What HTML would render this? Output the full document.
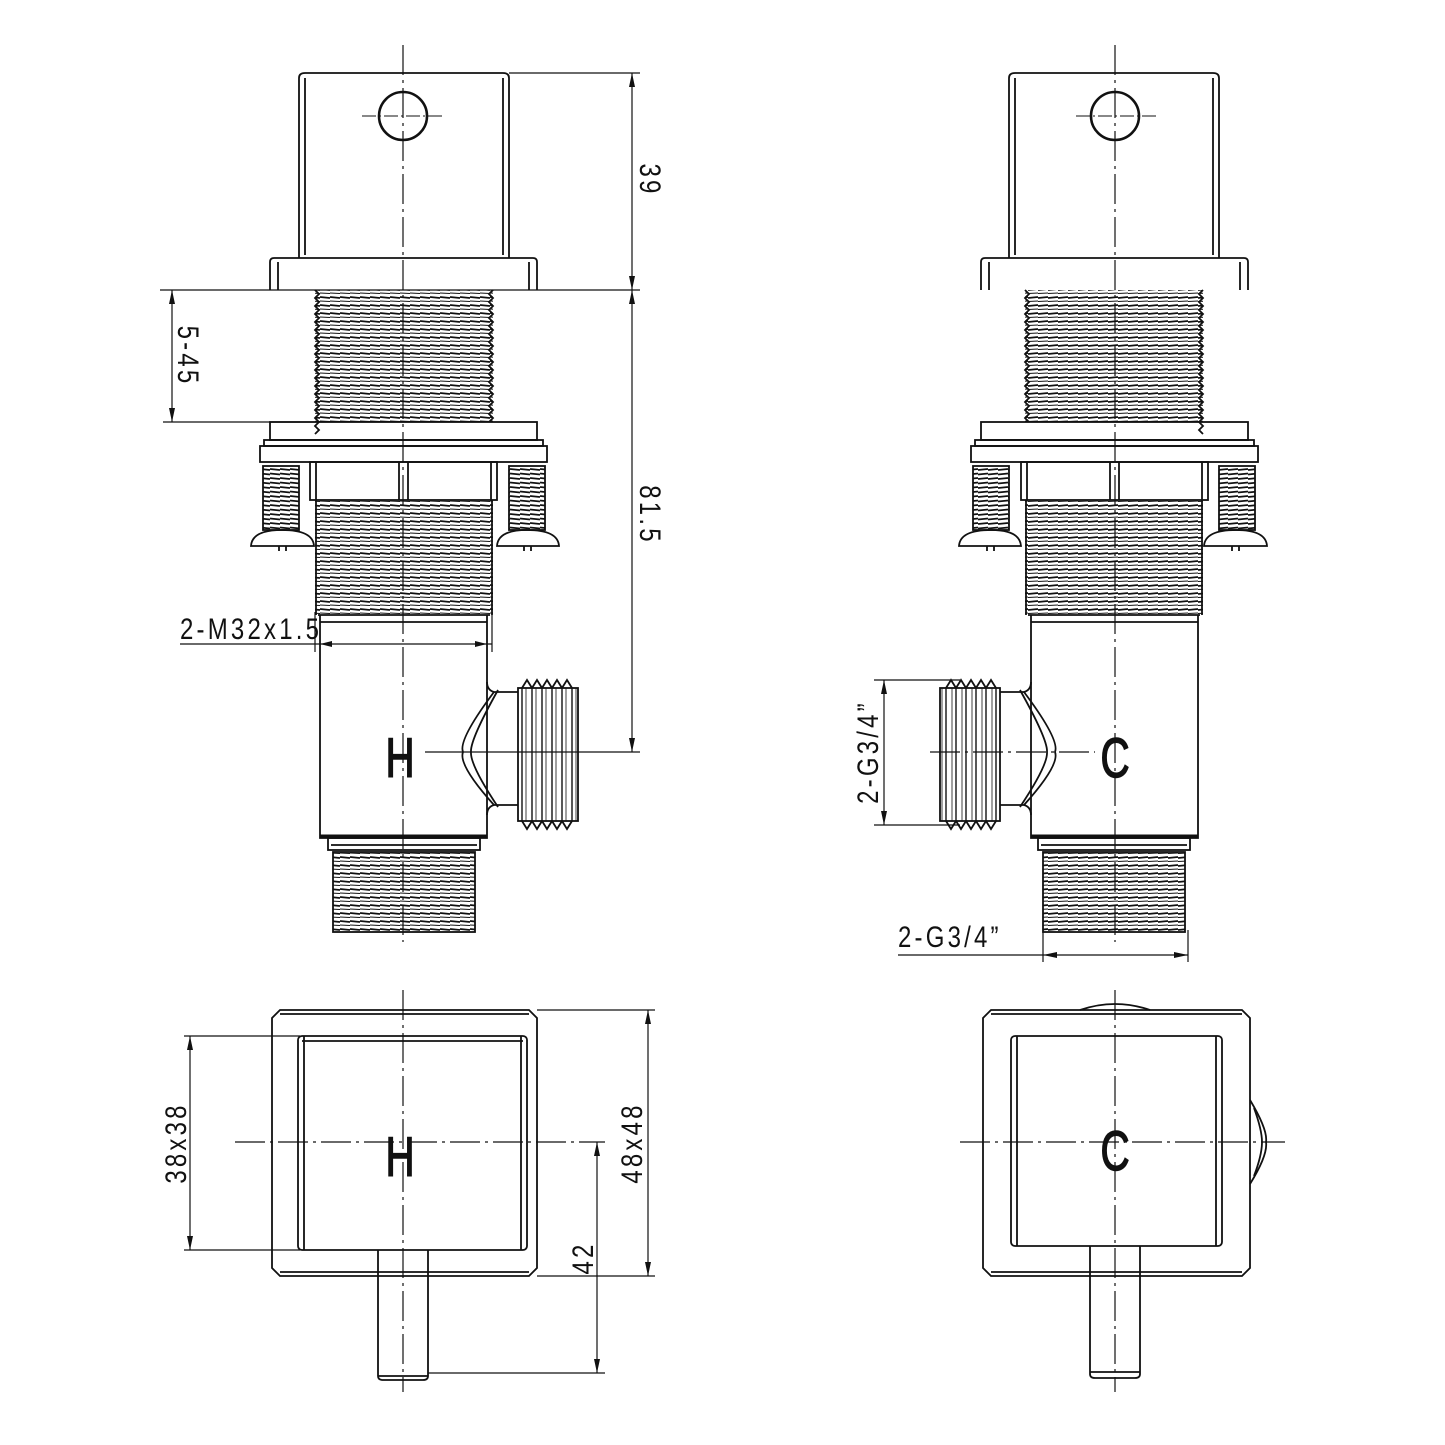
<!DOCTYPE html>
<html><head><meta charset="utf-8"><style>
html,body{margin:0;padding:0;background:#fff}
svg{display:block}
text{font-family:"Liberation Sans",sans-serif;fill:#111}
</style></head><body>
<svg width="1445" height="1445" viewBox="0 0 1445 1445" xmlns="http://www.w3.org/2000/svg">
<defs>
<pattern id="th" width="10" height="8" patternUnits="userSpaceOnUse">
<line x1="0" y1="1" x2="10" y2="2" stroke="#111" stroke-width="1.8"/>
<line x1="0" y1="5" x2="10" y2="5.5" stroke="#111" stroke-width="0.9"/>
</pattern>
<pattern id="ths" width="10" height="4.5" patternUnits="userSpaceOnUse">
<line x1="0" y1="1" x2="10" y2="2" stroke="#111" stroke-width="1.8"/>
</pattern>
<pattern id="thv" width="10" height="10" patternUnits="userSpaceOnUse">
<line x1="2" y1="0" x2="2" y2="10" stroke="#111" stroke-width="1.4"/>
<line x1="6" y1="0" x2="6" y2="10" stroke="#111" stroke-width="0.8"/>
</pattern>
<g id="elev" fill="none" stroke="#111" stroke-width="1.8">
<path d="M299,258 L299,78 Q299,73 305,73 L503,73 Q509,73 509,78 L509,258"/>
<line x1="305" y1="78" x2="305" y2="255"/><line x1="503" y1="78" x2="503" y2="255"/>
<circle cx="403" cy="116" r="24" stroke-width="2.6"/>
<line x1="362" y1="116" x2="445" y2="116" stroke-width="1" stroke-dasharray="14,3,2,3"/>
<path d="M270,290 L270,262 Q270,258 274,258 L533,258 Q537,258 537,262 L537,290"/>
<line x1="278" y1="262" x2="278" y2="290"/><line x1="529" y1="262" x2="529" y2="290"/>
<rect x="315" y="290" width="178" height="132" fill="url(#th)" stroke="none"/>
<path d="M315,290 l4,4 -4,4 4,4 -4,4 4,4 -4,4 4,4 -4,4 4,4 -4,4 4,4 -4,4 4,4 -4,4 4,4 -4,4 4,4 -4,4 4,4 -4,4 4,4 -4,4 4,4 -4,4 4,4 -4,4 4,4 -4,4 4,4 -4,4 4,4 -4,4 4,4 -4,4 4,4 -4,4"/>
<path d="M493,290 l-4,4 4,4 -4,4 4,4 -4,4 4,4 -4,4 4,4 -4,4 4,4 -4,4 4,4 -4,4 4,4 -4,4 4,4 -4,4 4,4 -4,4 4,4 -4,4 4,4 -4,4 4,4 -4,4 4,4 -4,4 4,4 -4,4 4,4 -4,4 4,4 -4,4"/>
<rect x="270" y="422" width="267" height="18"/>
<rect x="264" y="440" width="279" height="6"/>
<rect x="260" y="446" width="287" height="16"/>
<rect x="310" y="462" width="187" height="38"/>
<line x1="316" y1="462" x2="316" y2="500"/><line x1="491" y1="462" x2="491" y2="500"/>
<line x1="399" y1="462" x2="399" y2="500"/><line x1="408" y1="462" x2="408" y2="500"/>
<rect x="263" y="466" width="36" height="64" fill="url(#ths)"/>
<path d="M251,546 Q252,530 282,530 Q313,530 314,546 Z"/>
<line x1="279" y1="546" x2="279" y2="551"/><line x1="286" y1="546" x2="286" y2="551"/>
<rect x="509" y="466" width="36" height="64" fill="url(#ths)"/>
<path d="M497,546 Q498,530 527,530 Q558,530 559,546 Z"/>
<line x1="524" y1="546" x2="524" y2="551"/><line x1="531" y1="546" x2="531" y2="551"/>
<rect x="315" y="500" width="178" height="115" fill="url(#th)" stroke="none"/>
<line x1="316" y1="500" x2="316" y2="615"/><line x1="492" y1="500" x2="492" y2="615"/>
<line x1="318" y1="615" x2="490" y2="615"/>
<path d="M320,615 L320,838 L487,838 L487,615"/>
<line x1="320" y1="622" x2="487" y2="622"/>
<line x1="320" y1="836" x2="487" y2="836" stroke-width="3"/>
<path d="M487,682 Q487,690 494,692 L518,692 M487,815 Q487,807 494,805 L518,805"/>
<path d="M494,692 Q458,740 463,752 Q458,765 494,805"/>
<path d="M498,690 Q470,740 471,752 Q470,765 498,807"/>
<rect x="518" y="688" width="60" height="133" fill="url(#thv)"/>
<path d="M522,688 l5,-8 5,8 5,-8 5,8 5,-8 5,8 5,-8 5,8 5,-8 5,8 M522,821 l5,8 5,-8 5,8 5,-8 5,8 5,-8 5,8 5,-8 5,8 5,-8"/>
<rect x="328" y="838" width="152" height="12"/>
<line x1="331" y1="845" x2="477" y2="845"/>
<rect x="333" y="852" width="142" height="80" fill="url(#th)"/>
</g>
</defs>

<use href="#elev"/>
<g transform="translate(1518,0) scale(-1,1)"><use href="#elev"/></g>

<g fill="none" stroke="#111" stroke-width="1.2">
<line x1="403" y1="45" x2="403" y2="942" stroke-dasharray="30,5,3,5"/>
<line x1="1115" y1="45" x2="1115" y2="942" stroke-dasharray="30,5,3,5"/>
<line x1="425" y1="752" x2="640" y2="752"/>
<line x1="930" y1="752" x2="1095" y2="752" stroke-dasharray="30,5,3,5"/>
<line x1="509" y1="73" x2="640" y2="73"/>
<line x1="160" y1="290" x2="640" y2="290"/>
<line x1="632" y1="73" x2="632" y2="752"/>
<line x1="172" y1="290" x2="172" y2="422"/>
<line x1="163" y1="422" x2="300" y2="422"/>
<line x1="180" y1="644" x2="492" y2="644"/>
<line x1="315" y1="612" x2="315" y2="652"/>
<line x1="492" y1="612" x2="492" y2="652"/>
<line x1="874" y1="680" x2="960" y2="680"/>
<line x1="874" y1="825" x2="960" y2="825"/>
<line x1="884" y1="680" x2="884" y2="825"/>
<line x1="898" y1="955" x2="1188" y2="955"/>
<line x1="1043" y1="930" x2="1043" y2="962"/>
<line x1="1188" y1="930" x2="1188" y2="962"/>
</g>
<g fill="#111">
<path d="M632,73 l-3,14 6,0Z M632,290 l-3,-14 6,0Z M632,290 l-3,14 6,0Z M632,752 l-3,-14 6,0Z"/>
<path d="M172,290 l-3,14 6,0Z M172,422 l-3,-14 6,0Z"/>
<path d="M884,680 l-3,14 6,0Z M884,825 l-3,-14 6,0Z"/>
<path d="M1043,955 l14,-3 0,6Z M1188,955 l-14,-3 0,6Z"/>
<path d="M320,644 l12,-3 0,6Z M487,644 l-12,-3 0,6Z"/>
</g>

<g fill="none" stroke="#111" stroke-width="1.8">
<path d="M280,1010 L529,1010 L537,1018 L537,1268 L529,1276 L280,1276 L272,1268 L272,1018 Z"/>
<line x1="280" y1="1014" x2="529" y2="1014"/><line x1="280" y1="1272" x2="529" y2="1272"/>
<rect x="298" y="1036" width="229" height="214" rx="4"/>
<line x1="304" y1="1036" x2="304" y2="1250"/><line x1="521" y1="1036" x2="521" y2="1250"/>
<line x1="302" y1="1041" x2="523" y2="1041"/>
<path d="M378,1250 L378,1376 Q378,1380 383,1380 L423,1380 Q428,1380 428,1376 L428,1250"/>
<line x1="378" y1="1376" x2="428" y2="1376"/>
<path d="M991,1010 L1242,1010 L1250,1018 L1250,1268 L1242,1276 L991,1276 L983,1268 L983,1018 Z"/>
<line x1="991" y1="1014" x2="1242" y2="1014"/><line x1="991" y1="1272" x2="1242" y2="1272"/>
<rect x="1011" y="1036" width="211" height="210" rx="4"/>
<line x1="1017" y1="1036" x2="1017" y2="1246"/><line x1="1216" y1="1036" x2="1216" y2="1246"/>
<path d="M1090,1246 L1090,1374 Q1090,1378 1095,1378 L1135,1378 Q1140,1378 1140,1374 L1140,1246"/>
<line x1="1090" y1="1372" x2="1140" y2="1372"/>
<path d="M1080,1010 Q1115,998 1150,1010"/>
<path d="M1250,1100 Q1268,1130 1266,1142 Q1268,1155 1250,1184"/>
<path d="M1254,1108 Q1262,1130 1262,1142 Q1262,1155 1254,1176"/>
</g>
<g fill="none" stroke="#111" stroke-width="1.2">
<line x1="403" y1="990" x2="403" y2="1392" stroke-dasharray="30,5,3,5"/>
<line x1="235" y1="1142" x2="605" y2="1142" stroke-dasharray="30,5,3,5"/>
<line x1="1115" y1="990" x2="1115" y2="1392" stroke-dasharray="30,5,3,5"/>
<line x1="960" y1="1142" x2="1285" y2="1142" stroke-dasharray="30,5,3,5"/>
<line x1="184" y1="1036" x2="300" y2="1036"/><line x1="184" y1="1250" x2="300" y2="1250"/>
<line x1="190" y1="1036" x2="190" y2="1250"/>
<line x1="537" y1="1010" x2="655" y2="1010"/><line x1="537" y1="1276" x2="655" y2="1276"/>
<line x1="648" y1="1010" x2="648" y2="1276"/>
<line x1="428" y1="1373" x2="605" y2="1373"/>
<line x1="597" y1="1142" x2="597" y2="1373"/>
</g>
<g fill="#111">
<path d="M190,1036 l-3,14 6,0Z M190,1250 l-3,-14 6,0Z"/>
<path d="M648,1010 l-3,14 6,0Z M648,1276 l-3,-14 6,0Z"/>
<path d="M597,1142 l-3,14 6,0Z M597,1373 l-3,-14 6,0Z"/>
</g>

<g font-size="30" letter-spacing="4">
<text transform="translate(640,180) rotate(90) scale(0.8,1)" text-anchor="middle">39</text>
<text transform="translate(640,515) rotate(90) scale(0.8,1)" text-anchor="middle">81.5</text>
<text transform="translate(178,356) rotate(90) scale(0.8,1)" text-anchor="middle">5-45</text>
<text transform="translate(180,639) scale(0.8,1)">2-M32x1.5</text>
<text transform="translate(878,752) rotate(-90) scale(0.8,1)" text-anchor="middle">2-G3/4”</text>
<text transform="translate(898,947) scale(0.8,1)">2-G3/4”</text>
<text transform="translate(186,1143) rotate(-90) scale(0.8,1)" text-anchor="middle">38x38</text>
<text transform="translate(642,1143) rotate(-90) scale(0.8,1)" text-anchor="middle">48x48</text>
<text transform="translate(593,1258) rotate(-90) scale(0.8,1)" text-anchor="middle">42</text>
</g>
<g font-size="56" stroke="#111" stroke-width="1.5">
<text transform="translate(400,777) scale(0.72,1)" text-anchor="middle">H</text>
<text transform="translate(1115,777) scale(0.72,1)" text-anchor="middle">C</text>
<text transform="translate(400,1176) scale(0.72,1)" text-anchor="middle">H</text>
<text transform="translate(1115,1170) scale(0.72,1)" text-anchor="middle">C</text>
</g>
</svg>
</body></html>
